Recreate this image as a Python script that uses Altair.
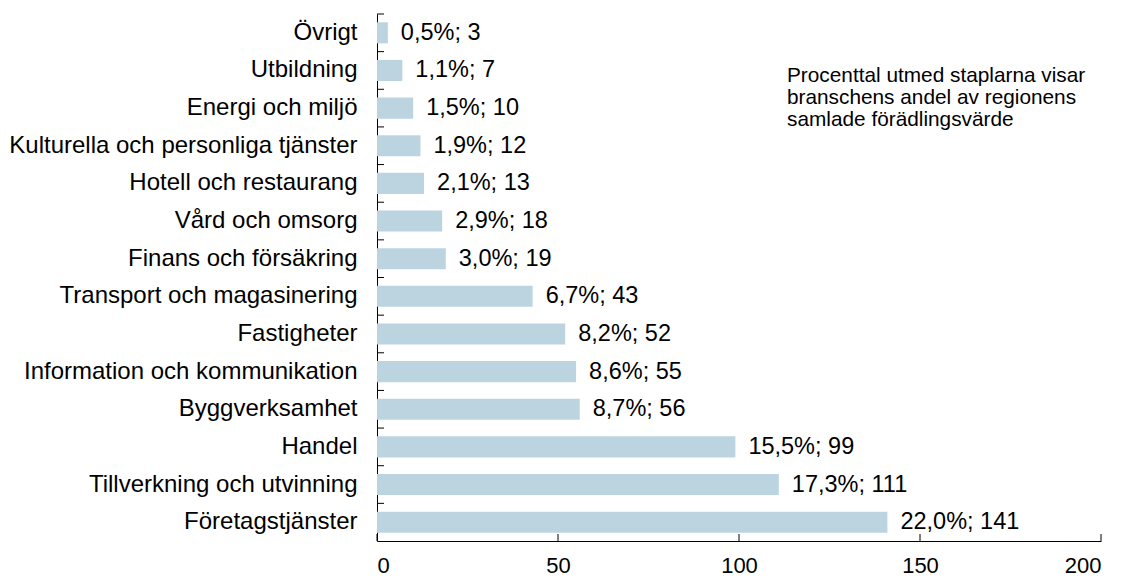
import altair as alt
import pandas as pd

categories = [
    "Övrigt", "Utbildning", "Energi och miljö", "Kulturella och personliga tjänster",
    "Hotell och restaurang", "Vård och omsorg", "Finans och försäkring",
    "Transport och magasinering", "Fastigheter", "Information och kommunikation",
    "Byggverksamhet", "Handel", "Tillverkning och utvinning", "Företagstjänster",
]
values = [3, 7, 10, 12, 13, 18, 19, 43, 52, 55, 56, 99, 111, 141]
percents = [0.5, 1.1, 1.5, 1.9, 2.1, 2.9, 3.0, 6.7, 8.2, 8.6, 8.7, 15.5, 17.3, 22.0]
x_ticks = [0, 50, 100, 150, 200]
note = ["Procenttal utmed staplarna visar", "branschens andel av regionens",
        "samlade förädlingsvärde"]

labels = [f"{p:.1f}".replace(".", ",") + "%; " + str(v) for p, v in zip(percents, values)]
df = pd.DataFrame({"cat": categories, "val": values, "label": labels})
ticks_df = pd.DataFrame({"t": x_ticks})

FONT = "Liberation Sans"
W, H = 724, 527
BAR = "#bcd4e0"

yscale = alt.Scale(domain=categories, paddingInner=0, paddingOuter=0)
xscale = alt.Scale(domain=[0, 200], nice=False)

y_enc = alt.Y("cat:N", sort=categories, scale=yscale, title=None,
              axis=alt.Axis(ticks=False, domain=True, domainColor="black", domainWidth=1,
                            labelFont=FONT, labelFontSize=24, labelColor="black",
                            labelPadding=20, labelLimit=0))
x_enc = alt.X("val:Q", scale=xscale, title=None,
              axis=alt.Axis(values=x_ticks, ticks=False, grid=False, domain=True,
                            domainColor="black", domainWidth=1,
                            labelFont=FONT, labelFontSize=22, labelColor="black",
                            labelPadding=14))

bars = alt.Chart(df).mark_bar(color=BAR, height={"band": 0.56}).encode(x=x_enc, y=y_enc)

text = alt.Chart(df).mark_text(align="left", baseline="middle", dx=13, font=FONT,
                               fontSize=23.5, color="black").encode(
    x=alt.X("val:Q", scale=xscale), y=alt.Y("cat:N", sort=categories, scale=yscale),
    text="label:N")

ytick = alt.Chart(df).mark_rule(color="black", strokeWidth=1).encode(
    y=alt.Y("cat:N", sort=categories, scale=yscale, bandPosition=0),
    x=alt.value(0), x2=alt.value(7))

xtick = alt.Chart(ticks_df).mark_rule(color="black", strokeWidth=1).encode(
    x=alt.X("t:Q", scale=xscale), y=alt.value(H), y2=alt.value(H - 7))

note_df = pd.DataFrame({"txt": ["\n".join(note)]})
annot = alt.Chart(note_df).mark_text(align="left", baseline="top", font=FONT, fontSize=20.8,
                                     lineHeight=22, color="black", lineBreak="\n").encode(
    x=alt.value(410), y=alt.value(52), text="txt:N")

chart = alt.layer(bars, text, ytick, xtick, annot).properties(
    width=W, height=H, padding={"left": 0, "top": 5, "right": 5, "bottom": 5}
).configure(background="white").configure_view(stroke=None, strokeWidth=0)

chart.save("out.html", embed_options={"renderer": "svg", "actions": False})
